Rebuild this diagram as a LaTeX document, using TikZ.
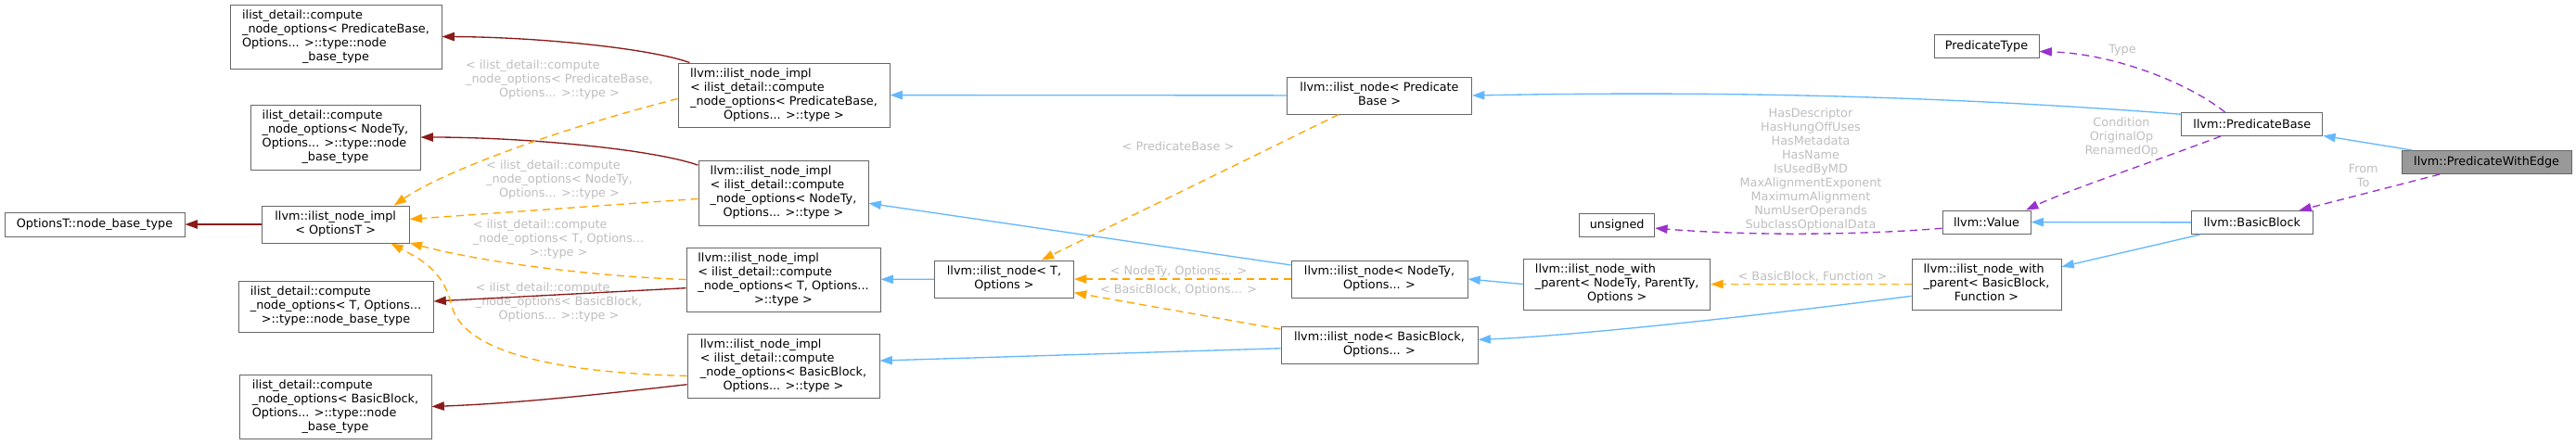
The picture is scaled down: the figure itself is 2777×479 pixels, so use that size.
\documentclass[tikz,border=0pt]{standalone}
\usepackage{fontspec}
\setmainfont{DejaVu Sans}
\usetikzlibrary{arrows.meta}
\definecolor{nodeborder}{HTML}{666666}
\definecolor{mainfill}{HTML}{999999}
\definecolor{inhblue}{HTML}{63B8FF}
\definecolor{tplorange}{HTML}{FFA500}
\definecolor{usepurple}{HTML}{9A32CD}
\definecolor{basered}{HTML}{8B1A1A}
\definecolor{labelgray}{HTML}{BEBEBE}
\newcommand{\nodelines}[1]{\begin{tabular}{@{}l@{}}#1\end{tabular}}
\newcommand{\lastcentered}[1]{\multicolumn{1}{@{}c@{}}{#1}}

\begin{document}
\begin{tikzpicture}[x=0.75pt, y=-0.75pt, >={Triangle[length=10pt, width=7pt]}]
    \tikzstyle{cls} = [rectangle, draw=nodeborder, line width=0.75pt, fill=white, inner sep=0pt, minimum height=18.75pt, font=\fontsize{9.6}{11.25}\selectfont]
    \tikzstyle{focus} = [cls, fill=mainfill]
    \tikzstyle{elabel} = [inner sep=0pt, text=labelgray, align=center, font=\fontsize{9.6}{11.25}\selectfont]
    \tikzstyle{inherit} = [->, inhblue, line width=1pt]
    \tikzstyle{tmpl} = [->, tplorange, line width=1pt, dash pattern=on 6pt off 4pt]
    \tikzstyle{member} = [->, usepurple, line width=1pt, dash pattern=on 6pt off 4pt]
    \tikzstyle{nodebase} = [->, basered, line width=1pt]

    \useasboundingbox (0,0) rectangle (2777,479);

    \node (cnoPB) [cls, minimum width=171pt, minimum height=51.75pt] at (362,39.5) {\nodelines{ilist\_detail::compute\\\_node\_options< PredicateBase,\\Options... >::type::node\\\lastcentered{\_base\_type}}};
    \node (cnoNT) [cls, minimum width=137.25pt, minimum height=52.5pt] at (361.5,148) {\nodelines{ilist\_detail::compute\\\_node\_options< NodeTy,\\Options... >::type::node\\\lastcentered{\_base\_type}}};
    \node (optT) [cls, minimum width=145.5pt, minimum height=19.5pt] at (102,242) {OptionsT::node\_base\_type};
    \node (implOT) [cls, minimum width=119.25pt, minimum height=30pt] at (361.7,242) {\nodelines{llvm::ilist\_node\_impl\\\lastcentered{< OptionsT >}}};
    \node (cnoT) [cls, minimum width=157.5pt, minimum height=41.25pt] at (362,330.5) {\nodelines{ilist\_detail::compute\\\_node\_options< T, Options...\\\lastcentered{>::type::node\_base\_type}}};
    \node (cnoBB) [cls, minimum width=155.25pt, minimum height=51.75pt] at (361.5,438.5) {\nodelines{ilist\_detail::compute\\\_node\_options< BasicBlock,\\Options... >::type::node\\\lastcentered{\_base\_type}}};

    \node (implPB) [cls, minimum width=171pt, minimum height=51.75pt] at (845,102.5) {\nodelines{llvm::ilist\_node\_impl\\< ilist\_detail::compute\\\_node\_options< PredicateBase,\\\lastcentered{Options... >::type >}}};
    \node (implNT) [cls, minimum width=137.25pt, minimum height=52.5pt] at (844.5,208) {\nodelines{llvm::ilist\_node\_impl\\< ilist\_detail::compute\\\_node\_options< NodeTy,\\\lastcentered{Options... >::type >}}};
    \node (implT) [cls, minimum width=156.75pt, minimum height=51.75pt] at (844.5,301.5) {\nodelines{llvm::ilist\_node\_impl\\< ilist\_detail::compute\\\_node\_options< T, Options...\\\lastcentered{>::type >}}};
    \node (implBB) [cls, minimum width=155.25pt, minimum height=51.75pt] at (844.5,394.5) {\nodelines{llvm::ilist\_node\_impl\\< ilist\_detail::compute\\\_node\_options< BasicBlock,\\\lastcentered{Options... >::type >}}};

    \node (nodeT) [cls, minimum width=112.5pt, minimum height=30pt] at (1082.5,301) {\nodelines{llvm::ilist\_node< T,\\\lastcentered{Options >}}};
    \node (nodePB) [cls, minimum width=149.25pt, minimum height=30pt] at (1487,103) {\nodelines{llvm::ilist\_node< Predicate\\\lastcentered{Base >}}};
    \node (nodeNT) [cls, minimum width=142.5pt, minimum height=30pt] at (1487,301) {\nodelines{llvm::ilist\_node< NodeTy,\\\lastcentered{Options... >}}};
    \node (nodeBB) [cls, minimum width=159pt, minimum height=30pt] at (1487,372) {\nodelines{llvm::ilist\_node< BasicBlock,\\\lastcentered{Options... >}}};

    \node (unsgn) [cls, minimum width=60.75pt] at (1743.2,242.5) {unsigned};
    \node (withNT) [cls, minimum width=150.75pt, minimum height=41.25pt] at (1743.2,306.5) {\nodelines{llvm::ilist\_node\_with\\\_parent< NodeTy, ParentTy,\\\lastcentered{Options >}}};
    \node (ptype) [cls, minimum width=84.75pt] at (2141.5,49.5) {PredicateType};
    \node (value) [cls, minimum width=71.25pt] at (2141.5,239.5) {llvm::Value};
    \node (withBB) [cls, minimum width=120.75pt, minimum height=41.25pt] at (2141.5,306.5) {\nodelines{llvm::ilist\_node\_with\\\_parent< BasicBlock,\\\lastcentered{Function >}}};
    \node (pbase) [cls, minimum width=114pt] at (2427.8,134) {llvm::PredicateBase};
    \node (bblock) [cls, minimum width=98.25pt] at (2427.8,240) {llvm::BasicBlock};
    \node (pwe) [focus, minimum width=137.25pt] at (2680.6,175) {llvm::PredicateWithEdge};

    \node (lblPBimpl) [elabel] at (603,86) {\nodelines{< ilist\_detail::compute\\\_node\_options< PredicateBase,\\\lastcentered{Options... >::type >}}};
    \node (lblNTimpl) [elabel] at (603,194.5) {\nodelines{< ilist\_detail::compute\\\_node\_options< NodeTy,\\\lastcentered{Options... >::type >}}};
    \node (lblTimpl) [elabel] at (602,258) {\nodelines{< ilist\_detail::compute\\\_node\_options< T, Options...\\\lastcentered{>::type >}}};
    \node (lblBBimpl) [elabel] at (602.5,326) {\nodelines{< ilist\_detail::compute\\\_node\_options< BasicBlock,\\\lastcentered{Options... >::type >}}};
    \node (lblPB) [elabel] at (1270,158) {< PredicateBase >};
    \node (lblNT) [elabel] at (1270.6,292.7) {< NodeTy, Options... >};
    \node (lblBB) [elabel] at (1270.6,312.7) {< BasicBlock, Options... >};
    \node (lblFn) [elabel] at (1954,298.3) {< BasicBlock, Function >};
    \node (lblVal) [elabel] at (1952,183.3) {HasDescriptor\\HasHungOffUses\\HasMetadata\\HasName\\IsUsedByMD\\MaxAlignmentExponent\\MaximumAlignment\\NumUserOperands\\SubclassOptionalData};
    \node (lblType) [elabel] at (2288,54.3) {Type};
    \node (lblCond) [elabel] at (2287,147.7) {Condition\\OriginalOp\\RenamedOp};
    \node (lblEdge) [elabel] at (2547.7,189.7) {From\\To};

    \draw [nodebase] (implPB.161) .. controls (700,52) and (580,40) .. (cnoPB.east);
    \draw [nodebase] (implNT.162) .. controls (700,160) and (560,148) .. (cnoNT.east);
    \draw [nodebase] (implOT) -- (optT);
    \draw [nodebase] (implT.185) -- (cnoT.3);
    \draw [nodebase] (implBB.191) .. controls (650,425) and (560,435) .. (cnoBB.east);

    \draw [tmpl] (implPB.182) .. controls (580,145) and (470,190) .. (implOT.18);
    \draw [tmpl] (implNT.184) -- (implOT.4);
    \draw [tmpl] (implT.west) .. controls (640,298) and (520,283) .. (implOT.346);
    \draw [tmpl] (implBB.186) .. controls (600,402) and (500,380) .. (487,330) .. controls (478,290) and (450,278) .. (implOT.341);

    \draw [inherit] (nodePB) -- (implPB);
    \draw [inherit] (nodeNT.171) -- (implNT.353);
    \draw [inherit] (nodeT) -- (implT);
    \draw [inherit] (nodeBB.182) -- (implBB.3);

    \draw [tmpl] (nodePB.205) -- (nodeT.27);
    \draw [tmpl] (nodeNT) -- (nodeT);
    \draw [tmpl] (nodeBB.171) -- (nodeT.349);

    \draw [inherit] (withNT.west) -- (nodeNT.east);
    \draw [inherit] (withBB.189) .. controls (1900,340) and (1700,362) .. (nodeBB.3);
    \draw [tmpl] (withBB) -- (withNT);
    \draw [member] (value.188) .. controls (2000,254) and (1880,254) .. (unsgn.355);

    \draw [inherit] (pbase.172) .. controls (2050,100) and (1800,99) .. (nodePB.east);
    \draw [member] (pbase.156) .. controls (2360,90) and (2280,58) .. (ptype.354);
    \draw [member] (pbase.201) .. controls (2320,175) and (2230,205) .. (value.17);
    \draw [inherit] (bblock) -- (value);
    \draw [inherit] (bblock) -- (withBB);
    \draw [inherit] (pwe) -- (pbase);
    \draw [member] (pwe) -- (bblock);
\end{tikzpicture}
\end{document}
